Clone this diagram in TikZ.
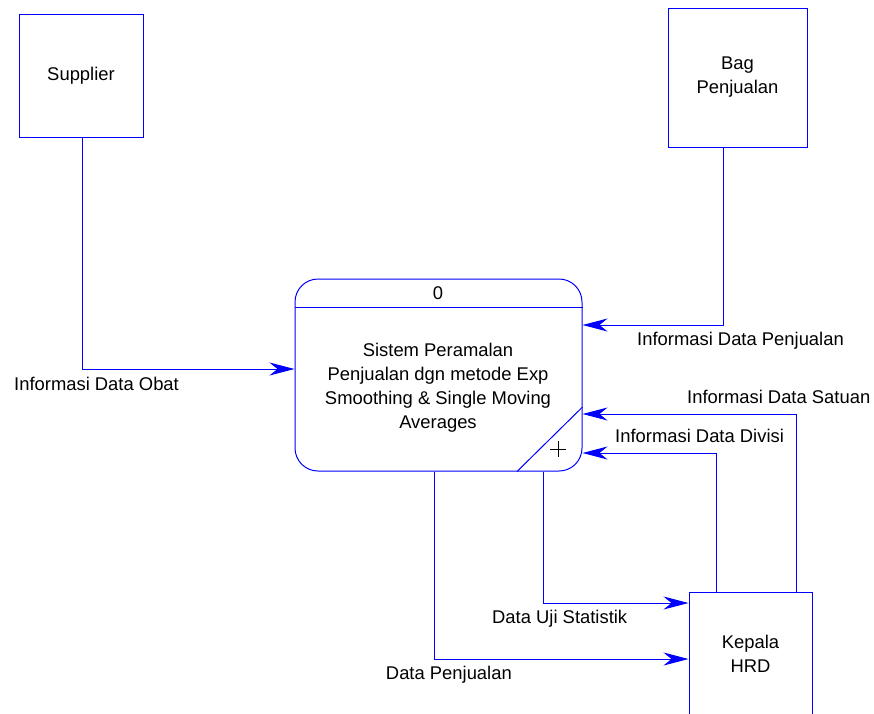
\documentclass[tikz,border=0pt]{standalone}
\usepackage{fontspec}
\setmainfont{Liberation Sans}
\usetikzlibrary{arrows.meta,calc}
\newcommand\dfdfont{\fontsize{18.4}{24}\selectfont}
\begin{document}
\begin{tikzpicture}[x=1pt,y=-1pt,
  ent/.style={draw=blue,line width=1pt,rectangle,inner sep=0pt,align=center,font=\dfdfont},
  flow/.style={draw=blue,line width=1pt,-{Stealth[length=25pt,width=13pt,inset=8pt]},fill=none},
  lbl/.style={inner sep=0pt,font=\dfdfont,text=black},
  divl/.style={draw=blue,line width=1pt}]
\useasboundingbox (0,0) rectangle (874,713);
\clip (0,0) rectangle (874,713);
% entities
\node[ent,minimum width=124pt,minimum height=123pt] (sup) at (81,75.5) {Supplier};
\node[ent,minimum width=139pt,minimum height=139pt] (bag) at (737.5,77.5) {Bag\\Penjualan};
\node[ent,minimum width=123pt,minimum height=123pt] (hrd) at (750.5,653.5) {Kepala\\HRD};
% process
\node[draw=blue,line width=1pt,rounded corners=23pt,minimum width=287pt,minimum height=192pt,inner sep=0pt] (proc) at (438.5,375) {};
\coordinate (dv) at (0,307);
\draw[divl] (proc.west |- dv) -- (proc.east |- dv);
\coordinate (dg1) at (517,0);
\coordinate (dg2) at (0,407);
\draw[divl] (proc.south -| dg1) -- (proc.east |- dg2);
\node[lbl] (pnum) at (438,293) {0};
\node[lbl,align=center] (ptext) at (438,388) {Sistem Peramalan\\Penjualan dgn metode Exp\\Smoothing \& Single Moving\\Averages};
\coordinate (plc) at (558,449);
\draw[black,line width=1pt] ($(plc)+(-8,0)$) -- ($(plc)+(8,0)$) ($(plc)+(0,-8)$) -- ($(plc)+(0,8)$);
% flows
\coordinate (c1) at (82,369);
\draw[flow] (sup.south -| c1) |- (proc.west |- c1);
\coordinate (c2) at (723,325);
\draw[flow] (bag.south -| c2) |- (proc.east |- c2);
\coordinate (c3) at (796,414);
\draw[flow] (hrd.north -| c3) |- (proc.east |- c3);
\coordinate (c4) at (716,453);
\draw[flow] (hrd.north -| c4) |- (proc.east |- c4);
\coordinate (c5) at (543,603);
\draw[flow] (proc.south -| c5) |- (hrd.west |- c5);
\coordinate (c6) at (434,659);
\draw[flow] (proc.south -| c6) |- (hrd.west |- c6);
% labels
\node[lbl,anchor=west] (l1) at (14,384) {Informasi Data Obat};
\node[lbl,anchor=west] (l2) at (637,341) {Informasi Data Penjualan};
\node[lbl,anchor=west] (l3) at (687,397) {Informasi Data Satuan};
\node[lbl,anchor=west] (l4) at (615,436) {Informasi Data Divisi};
\node[lbl,anchor=west] (l5) at (492,619) {Data Uji Statistik};
\node[lbl,anchor=east] (l6) at (512,675) {Data Penjualan};
\end{tikzpicture}
\end{document}
